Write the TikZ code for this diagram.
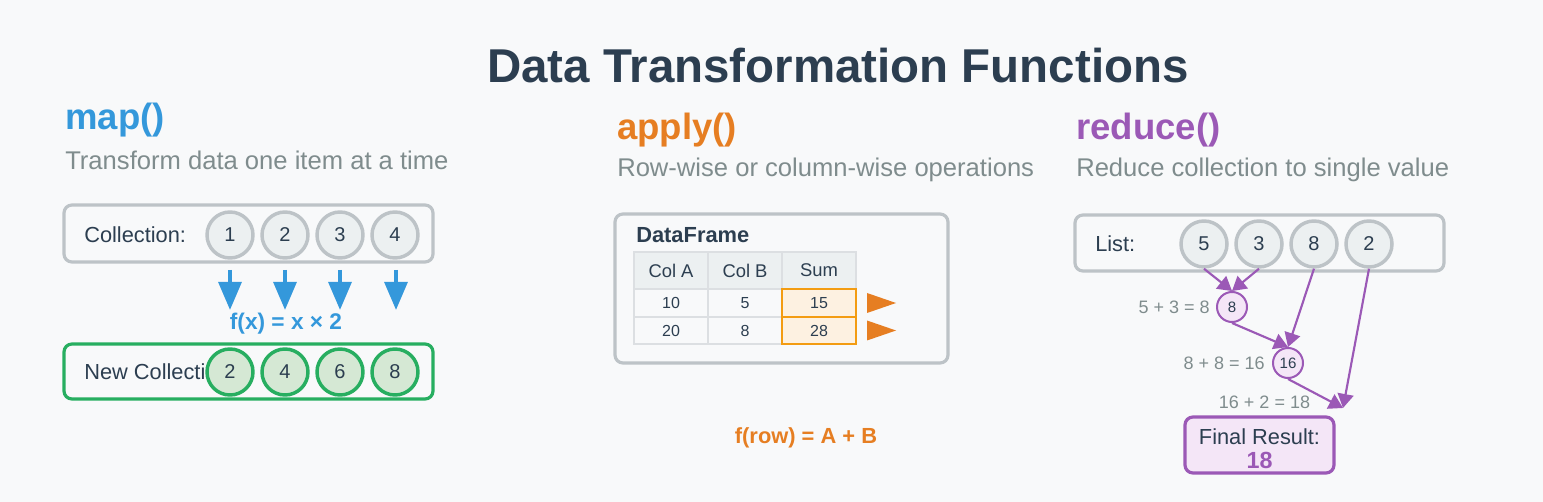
\documentclass[tikz,border=0pt]{standalone}
\usepackage{fontspec}
\setmainfont{Liberation Sans}
\usepackage{tikz}
\usetikzlibrary{arrows.meta}
\usepackage{xcolor}
\definecolor{bgcol}{HTML}{F8F9FA}
\definecolor{darktext}{HTML}{2C3E50}
\definecolor{subgray}{HTML}{7F8C8D}
\definecolor{mapblue}{HTML}{3498DB}
\definecolor{applyorange}{HTML}{E67E22}
\definecolor{redpurple}{HTML}{9B59B6}
\definecolor{mapgreen}{HTML}{27AE60}
\definecolor{greenfill}{HTML}{D5E8D4}
\definecolor{itemfill}{HTML}{ECF0F1}
\definecolor{boxgray}{HTML}{BDC3C7}
\definecolor{cellline}{HTML}{DCDFE2}
\definecolor{sumfill}{HTML}{FDF1E1}
\definecolor{sumline}{HTML}{F39C12}
\definecolor{purplefill}{HTML}{F4E6F7}

\begin{document}
\begin{tikzpicture}[x=0.75pt,y=-0.75pt,
  txt/.style={inner sep=0pt,text=darktext},
  headtxt/.style={txt,anchor=base west,font=\fontsize{27.4}{30}\selectfont\bfseries},
  subtxt/.style={txt,anchor=base west,text=subgray,font=\fontsize{19.2}{22}\selectfont},
  lbltxt/.style={txt,font=\fontsize{16.35}{19}\selectfont},
  steptxt/.style={txt,text=subgray,font=\fontsize{13.5}{16}\selectfont},
  panel/.style={draw=boxgray,line width=2.4pt,rounded corners=6pt,fill=bgcol,inner sep=0pt},
  item/.style={circle,draw=boxgray,fill=itemfill,line width=2.6pt,minimum size=34.5pt,inner sep=0pt,text=darktext,font=\fontsize{15}{17}\selectfont},
  newitem/.style={item,draw=mapgreen,fill=greenfill},
  partial/.style={circle,draw=redpurple,fill=purplefill,line width=1.5pt,minimum size=22.5pt,inner sep=0pt,text=darktext,font=\fontsize{11.3}{13}\selectfont},
  mapto/.style={-{Triangle[width=17pt,length=21pt]},draw=mapblue,line width=3pt},
  combine/.style={-{Triangle[width=12pt,length=10.5pt]},draw=redpurple,line width=1.6pt},
  hcell/.style={draw=cellline,fill=itemfill,line width=1.5pt,minimum width=55.5pt,minimum height=27.75pt,inner sep=0pt,text=darktext,font=\fontsize{13.8}{15}\selectfont},
  cell/.style={hcell,fill=bgcol,minimum height=20.6pt,font=\fontsize{12}{14}\selectfont},
  sumcell/.style={cell,draw=sumline,fill=sumfill}]

\path[fill=bgcol,use as bounding box] (0,0) rectangle (1543,502);

\node[txt,anchor=base,font=\fontsize{35.6}{40}\selectfont\bfseries] (title) at (838,83) {Data Transformation Functions};

% map()
\node[headtxt,text=mapblue] (maphead) at (65,130) {map()};
\node[subtxt] (mapsub) at (65,170) {Transform data one item at a time};
\node[panel,minimum width=276.75pt,minimum height=42.75pt] (colbox) at (248.5,233.5) {};
\node[lbltxt,anchor=base west] (collbl) at (84,243) {Collection:};
\node[item] (c1) at (230,235) {1};
\node[item] (c2) at (285,235) {2};
\node[item] (c3) at (340,235) {3};
\node[item] (c4) at (395,235) {4};
\draw[mapto] (c1) ++(0,35) -- ++(0,40);
\draw[mapto] (c2) ++(0,35) -- ++(0,40);
\draw[mapto] (c3) ++(0,35) -- ++(0,40);
\draw[mapto] (c4) ++(1,35) -- ++(0,40);
\node[txt,anchor=base,text=mapblue,font=\fontsize{17}{19}\selectfont\bfseries] (fx) at (286,330) {f(x) = x × 2};
\node[panel,draw=mapgreen,minimum width=276.75pt,minimum height=41.25pt] (newbox) at (248.5,371.5) {};
\node[lbltxt,anchor=base west] (newlbl) at (84,380) {New Collection:};
\node[newitem] (n1) at (230,372) {2};
\node[newitem] (n2) at (285,372) {4};
\node[newitem] (n3) at (340,372) {6};
\node[newitem] (n4) at (395,372) {8};

% apply()
\node[headtxt,text=applyorange] (applyhead) at (617,140) {apply()};
\node[subtxt] (applysub) at (617,177) {Row-wise or column-wise operations};
\node[panel,minimum width=249.75pt,minimum height=111.75pt] (frame) at (781.5,288.5) {};
\node[txt,anchor=base west,font=\fontsize{16.4}{19}\selectfont\bfseries] (dflbl) at (636,243) {DataFrame};
\node[hcell] (ha) at (671,270.5) {Col A};
\node[hcell] (hb) at (745,270.5) {Col B};
\node[hcell] (hs) at (819,270.5) {Sum};
\node[cell] (a1) at (671,303) {10};
\node[cell] (b1) at (745,303) {5};
\node[cell] (a2) at (671,330.5) {20};
\node[cell] (b2) at (745,330.5) {8};
\node[sumcell] (s1) at (819,303) {15};
\node[sumcell] (s2) at (819,330.5) {28};
\fill[applyorange] (s1.east) ++(10,-10) -- ++(29,10) -- ++(-29,10) -- cycle;
\fill[applyorange] (s2.east) ++(10,-10) -- ++(29,10) -- ++(-29,10) -- cycle;
\node[txt,anchor=base,text=applyorange,font=\fontsize{16.4}{19}\selectfont\bfseries] (frow) at (806,443) {f(row) = A + B};

% reduce()
\node[headtxt,text=redpurple] (redhead) at (1076,140) {reduce()};
\node[subtxt] (redsub) at (1076,177) {Reduce collection to single value};
\node[panel,minimum width=276.75pt,minimum height=42pt] (listbox) at (1259.5,243) {};
\node[lbltxt,anchor=base west] (listlbl) at (1095,252) {List:};
\node[item] (l1) at (1204,244) {5};
\node[item] (l2) at (1259,244) {3};
\node[item] (l3) at (1314,244) {8};
\node[item] (l4) at (1369,244) {2};
\node[partial] (r8) at (1232,307) {8};
\node[partial] (r16) at (1288,363) {16};
\coordinate (merge) at (1343,408);
\draw[combine] (l1.south) -- (r8.north);
\draw[combine] (l2.south) -- (r8.north);
\draw[combine] (l3.south) -- (r16.north);
\draw[combine] (r8.south) -- (r16.north);
\draw[combine] (r16.south) -- (merge);
\draw[combine] (l4.south) -- (merge);
\node[steptxt,anchor=base east] (st1) at (1210,314) {5 + 3 = 8};
\node[steptxt,anchor=base east] (st2) at (1265,370) {8 + 8 = 16};
\node[steptxt,anchor=base] (st3) at (1264.5,408) {16 + 2 = 18};
\node[panel,draw=redpurple,fill=purplefill,minimum width=111.75pt,minimum height=42pt] (final) at (1259.5,445) {};
\node[lbltxt,anchor=base] (finallbl) at (1259.5,445) {Final Result:};
\node[txt,anchor=base,text=redpurple,font=\fontsize{17.5}{19}\selectfont\bfseries] (finalval) at (1259.5,468) {18};
\end{tikzpicture}
\end{document}
